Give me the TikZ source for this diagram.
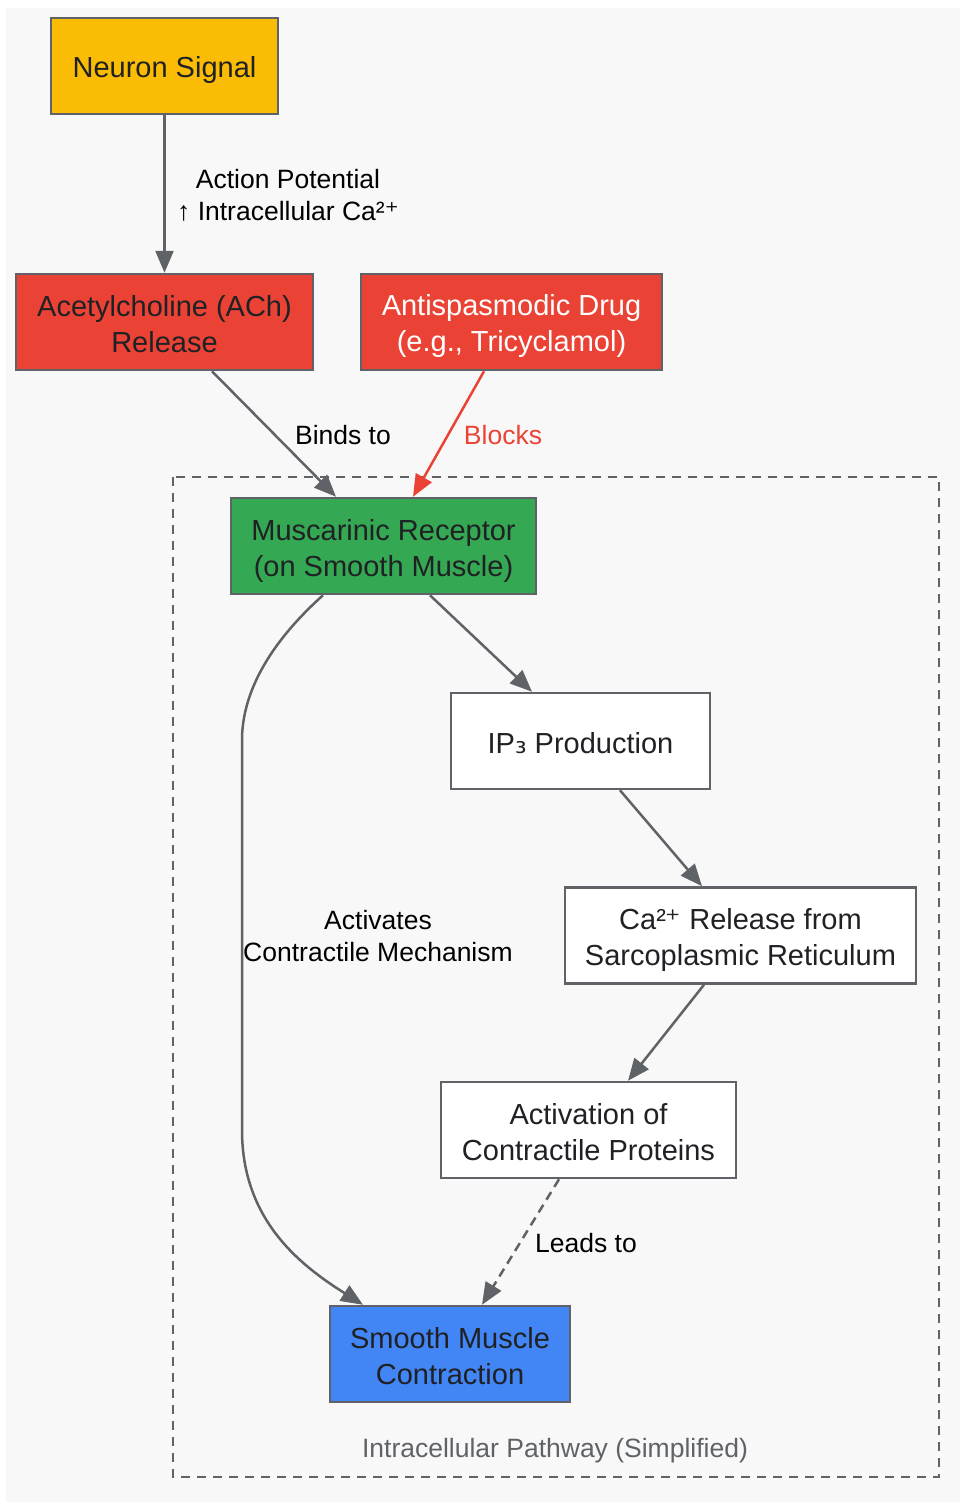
\documentclass[tikz,border=0pt]{standalone}
\usepackage{fontspec}
\setmainfont{Liberation Sans}
\newfontfamily\dejavu{DejaVu Sans}
\usetikzlibrary{arrows.meta}

\definecolor{linegray}{HTML}{5F6368}
\definecolor{bggray}{HTML}{F8F8F8}
\definecolor{textdark}{HTML}{202124}
\definecolor{signalyellow}{HTML}{FBBC05}
\definecolor{drugred}{HTML}{EA4335}
\definecolor{receptorgreen}{HTML}{34A853}
\definecolor{musclblue}{HTML}{4285F4}

\newcommand\boxfont{\fontsize{29}{36}\selectfont}
\newcommand\edgefont{\fontsize{26.5}{32}\selectfont}
\newcommand\upstrut{\rule{0pt}{30pt}}

\tikzset{
  box/.style={draw=linegray, line width=2.5pt, minimum height=96pt, inner sep=0pt,
    align=center, font=\boxfont, text=textdark,
    execute at end node={\rule[-6pt]{0pt}{6pt}}},
  flow/.style={draw=linegray, line width=2.5pt, -{Triangle[length=22pt,width=18pt]}},
  edgelabel/.style={font=\edgefont, align=center, text=black}
}

\begin{document}
\begin{tikzpicture}[x=1pt,y=-1pt]
  \useasboundingbox (0,0) rectangle (960,1502);
  \fill[bggray] (6,8) rectangle (960,1502);

  % cluster
  \draw[linegray, line width=2.7pt, dash pattern=on 9pt off 7pt] (173,477) rectangle (939,1477);
  \node[font=\edgefont, text=linegray] (clusterlabel) at (555,1451) {Intracellular Pathway (Simplified)};

  % nodes
  \node[box, fill=signalyellow, minimum width=227pt] (signal) at (164.5,66) {\upstrut Neuron Signal};
  \node[box, fill=drugred, minimum width=297pt] (ach) at (164.5,322) {\upstrut Acetylcholine (ACh)\\Release};
  \node[box, fill=drugred, minimum width=301pt, text=white] (drug) at (511.5,322) {\upstrut Antispasmodic Drug\\(e.g., Tricyclamol)};
  \node[box, fill=receptorgreen, minimum width=305pt] (musc) at (383.5,546) {\upstrut Muscarinic Receptor\\(on Smooth Muscle)};
  \node[box, fill=white, minimum width=259pt] (ip) at (580.5,741) {\upstrut IP{\dejavu ₃} Production};
  \node[box, fill=white, minimum width=351pt] (ca) at (740.5,935.5) {\upstrut Ca²{\dejavu ⁺} Release from\\Sarcoplasmic Reticulum};
  \node[box, fill=white, minimum width=295pt] (act) at (588.5,1130) {\upstrut Activation of\\Contractile Proteins};
  \node[box, fill=musclblue, minimum width=240pt] (smooth) at (450,1354) {\upstrut Smooth Muscle\\Contraction};

  % edges
  \draw[flow] (signal) -- (ach);
  \node[edgelabel] (aplabel) at (288,195) {Action Potential\\↑ Intracellular Ca²{\dejavu ⁺}};

  \draw[flow] ([xshift=47.5pt]ach.south) -- ([xshift=-47.5pt]musc.north);
  \node[edgelabel] (bindslabel) at (343,435) {Binds to};

  \draw[flow, draw=drugred] ([xshift=-27.5pt]drug.south) -- ([xshift=29.5pt]musc.north);
  \node[edgelabel, text=drugred] (blockslabel) at (503,435) {Blocks};

  \draw[flow] ([xshift=46.5pt]musc.south) -- ([xshift=-48.5pt]ip.north);
  \draw[flow] ([xshift=39.5pt]ip.south) -- ([xshift=-38.5pt]ca.north);
  \draw[flow] ([xshift=-36.5pt]ca.south) -- ([xshift=39.5pt]act.north);

  \draw[flow, dash pattern=on 9pt off 6pt] ([xshift=-29.5pt]act.south) -- ([xshift=32pt]smooth.north);
  \node[edgelabel] (leadslabel) at (586,1243) {Leads to};

  \coordinate (bendtop) at (242,740);
  \coordinate (bendbot) at (242,1130);
  \draw[flow] ([xshift=-60.5pt]musc.south) .. controls (262,650) and (242,700) .. (bendtop)
    -- (bendbot) .. controls (242,1220) and (300,1265) .. ([xshift=-87pt]smooth.north);
  \node[edgelabel] (activlabel) at (378,936) {Activates\\Contractile Mechanism};
\end{tikzpicture}
\end{document}
